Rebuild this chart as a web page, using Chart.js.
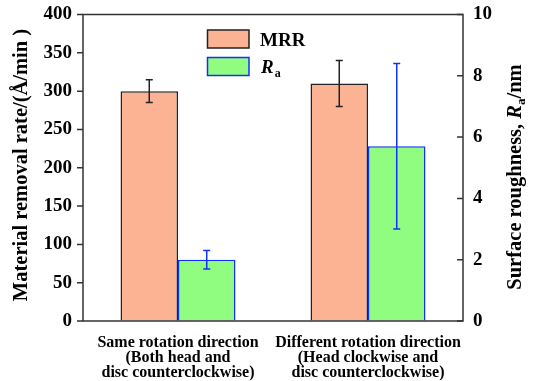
<!DOCTYPE html>
<html>
<head>
<meta charset="utf-8">
<script src="https://cdn.jsdelivr.net/npm/chart.js@4/dist/chart.umd.min.js"></script>
<style>
html,body{margin:0;padding:0;background:#fff;}
#wrap{width:535px;height:381px;position:relative;}
</style>
</head>
<body>
<div id="wrap"><canvas id="c" width="535" height="381"></canvas></div>
<script>
const categories = [
  ["Same rotation direction", "(Both head and", "disc counterclockwise)"],
  ["Different rotation direction", "(Head clockwise and", "disc counterclockwise)"]
];
const mrrValues = [300, 310];
const mrrErrors = [15, 30];
const raValues = [2.0, 5.7];
const raErrors = [0.3, 2.7];
const leftTicks = [0, 50, 100, 150, 200, 250, 300, 350, 400];
const rightTicks = [0, 2, 4, 6, 8, 10];
const leftTitle = "Material removal rate/(Å/min )";
const rightTitleParts = ["Surface roughness, ", "R", "a", "/nm"];
const legendLabels = ["MRR", "R", "a"];

const SERIF = "'Liberation Serif', 'Times New Roman', serif";
const MRR_FILL = "#FBB394";
const RA_FILL = "#90FD80";
const RA_EDGE = "#1030FF";

const errorBars = {
  id: "errorBars",
  afterDatasetsDraw(chart) {
    const ctx = chart.ctx;
    chart.data.datasets.forEach((ds, i) => {
      const meta = chart.getDatasetMeta(i);
      const ys = chart.scales[ds.yAxisID];
      meta.data.forEach((el, j) => {
        const v = ds.data[j], e = ds.errors[j];
        const x = el.x;
        const yt = ys.getPixelForValue(v + e), yb = ys.getPixelForValue(v - e);
        ctx.save();
        ctx.strokeStyle = ds.errColor;
        ctx.lineWidth = 1.5;
        ctx.beginPath();
        ctx.moveTo(x, yt); ctx.lineTo(x, yb);
        ctx.moveTo(x - 3.5, yt); ctx.lineTo(x + 3.5, yt);
        ctx.moveTo(x - 3.5, yb); ctx.lineTo(x + 3.5, yb);
        ctx.stroke();
        ctx.restore();
      });
    });
  }
};

const frame = {
  id: "frame",
  afterDraw(chart) {
    const ctx = chart.ctx;
    const a = chart.chartArea;
    ctx.save();
    ctx.strokeStyle = "#333";
    ctx.lineWidth = 1.5;
    ctx.strokeRect(a.left, a.top, a.right - a.left, a.bottom - a.top);
    const y0 = chart.scales.y;
    const y1 = chart.scales.y1;
    ctx.beginPath();
    leftTicks.forEach(t => {
      const y = y0.getPixelForValue(t);
      ctx.moveTo(a.left - 6, y); ctx.lineTo(a.left, y);
    });
    rightTicks.forEach(t => {
      const y = y1.getPixelForValue(t);
      ctx.moveTo(a.right - 6, y); ctx.lineTo(a.right, y);
    });
    ctx.stroke();
    ctx.restore();

    // left title
    ctx.save();
    ctx.fillStyle = "#000";
    ctx.font = "bold 20.5px " + SERIF;
    ctx.textAlign = "center";
    ctx.textBaseline = "middle";
    ctx.translate(22, 165);
    ctx.rotate(-Math.PI / 2);
    ctx.fillText(leftTitle, 0, 0);
    ctx.restore();

    // right title with italic R and subscript a
    ctx.save();
    ctx.fillStyle = "#000";
    ctx.textBaseline = "alphabetic";
    const fMain = "bold 20.5px " + SERIF;
    const fIt = "italic bold 20.5px " + SERIF;
    const fSub = "bold 13px " + SERIF;
    const fonts = [fMain, fIt, fSub, fMain];
    const widths = rightTitleParts.map((p, k) => { ctx.font = fonts[k]; return ctx.measureText(p).width; });
    const total = widths.reduce((s, w) => s + w, 0);
    ctx.translate(521, 177);
    ctx.rotate(-Math.PI / 2);
    let xx = -total / 2;
    rightTitleParts.forEach((p, k) => {
      ctx.font = fonts[k];
      ctx.fillText(p, xx, k === 2 ? 4 : 0);
      xx += widths[k];
    });
    ctx.restore();

    // legend
    ctx.save();
    ctx.lineWidth = 1.5;
    ctx.fillStyle = MRR_FILL; ctx.strokeStyle = "#222";
    ctx.fillRect(207.5, 30, 41.5, 18); ctx.strokeRect(207.5, 30, 41.5, 18);
    ctx.fillStyle = RA_FILL; ctx.strokeStyle = RA_EDGE;
    ctx.fillRect(207.5, 57.5, 41.5, 18); ctx.strokeRect(207.5, 57.5, 41.5, 18);
    ctx.fillStyle = "#000";
    ctx.textBaseline = "alphabetic";
    ctx.font = "bold 19px " + SERIF;
    ctx.fillText(legendLabels[0], 260, 46);
    ctx.font = "italic bold 19px " + SERIF;
    ctx.fillText(legendLabels[1], 261, 73);
    const rw = ctx.measureText(legendLabels[1]).width;
    ctx.font = "bold 12px " + SERIF;
    ctx.fillText(legendLabels[2], 261 + rw + 1, 77);
    ctx.restore();
  }
};

new Chart(document.getElementById("c"), {
  type: "bar",
  data: {
    labels: categories,
    datasets: [
      {
        label: legendLabels[0],
        data: mrrValues,
        errors: mrrErrors,
        errColor: "#222",
        yAxisID: "y",
        backgroundColor: MRR_FILL,
        borderColor: "#222",
        borderWidth: 1.5,
        categoryPercentage: 0.605,
        barPercentage: 1.0
      },
      {
        label: "Ra",
        data: raValues,
        errors: raErrors,
        errColor: RA_EDGE,
        yAxisID: "y1",
        backgroundColor: RA_FILL,
        borderColor: RA_EDGE,
        borderWidth: 1.5,
        categoryPercentage: 0.605,
        barPercentage: 1.0
      }
    ]
  },
  options: {
    responsive: false,
    animation: false,
    devicePixelRatio: 1,
    layout: { padding: { top: 14.5, left: 0, right: 0, bottom: 0 } },
    plugins: { legend: { display: false }, tooltip: { enabled: false } },
    scales: {
      x: {
        grid: { display: false, drawTicks: false },
        border: { display: false },
        ticks: {
          color: "#000",
          font: { family: SERIF, size: 16, weight: "bold", lineHeight: 0.94 },
          padding: 14,
          maxRotation: 0,
          autoSkip: false
        },
        afterFit(s) { s.height = 60; }
      },
      y: {
        position: "left",
        min: 0, max: 400,
        afterBuildTicks(s) { s.ticks = leftTicks.map(v => ({ value: v })); },
        grid: { drawOnChartArea: false, drawTicks: true, tickLength: 11, color: "rgba(0,0,0,0)" },
        border: { display: false },
        ticks: { color: "#000", font: { family: SERIF, size: 19, weight: "bold", lineHeight: 1.0 }, padding: 0 },
        afterFit(s) { s.width = 83; }
      },
      y1: {
        position: "right",
        min: 0, max: 10,
        afterBuildTicks(s) { s.ticks = rightTicks.map(v => ({ value: v })); },
        grid: { drawOnChartArea: false, drawTicks: true, tickLength: 10, color: "rgba(0,0,0,0)" },
        border: { display: false },
        ticks: { color: "#000", font: { family: SERIF, size: 19, weight: "bold", lineHeight: 1.0 }, padding: 0 },
        afterFit(s) { s.width = 72; }
      }
    }
  },
  plugins: [errorBars, frame]
});
</script>
</body>
</html>
